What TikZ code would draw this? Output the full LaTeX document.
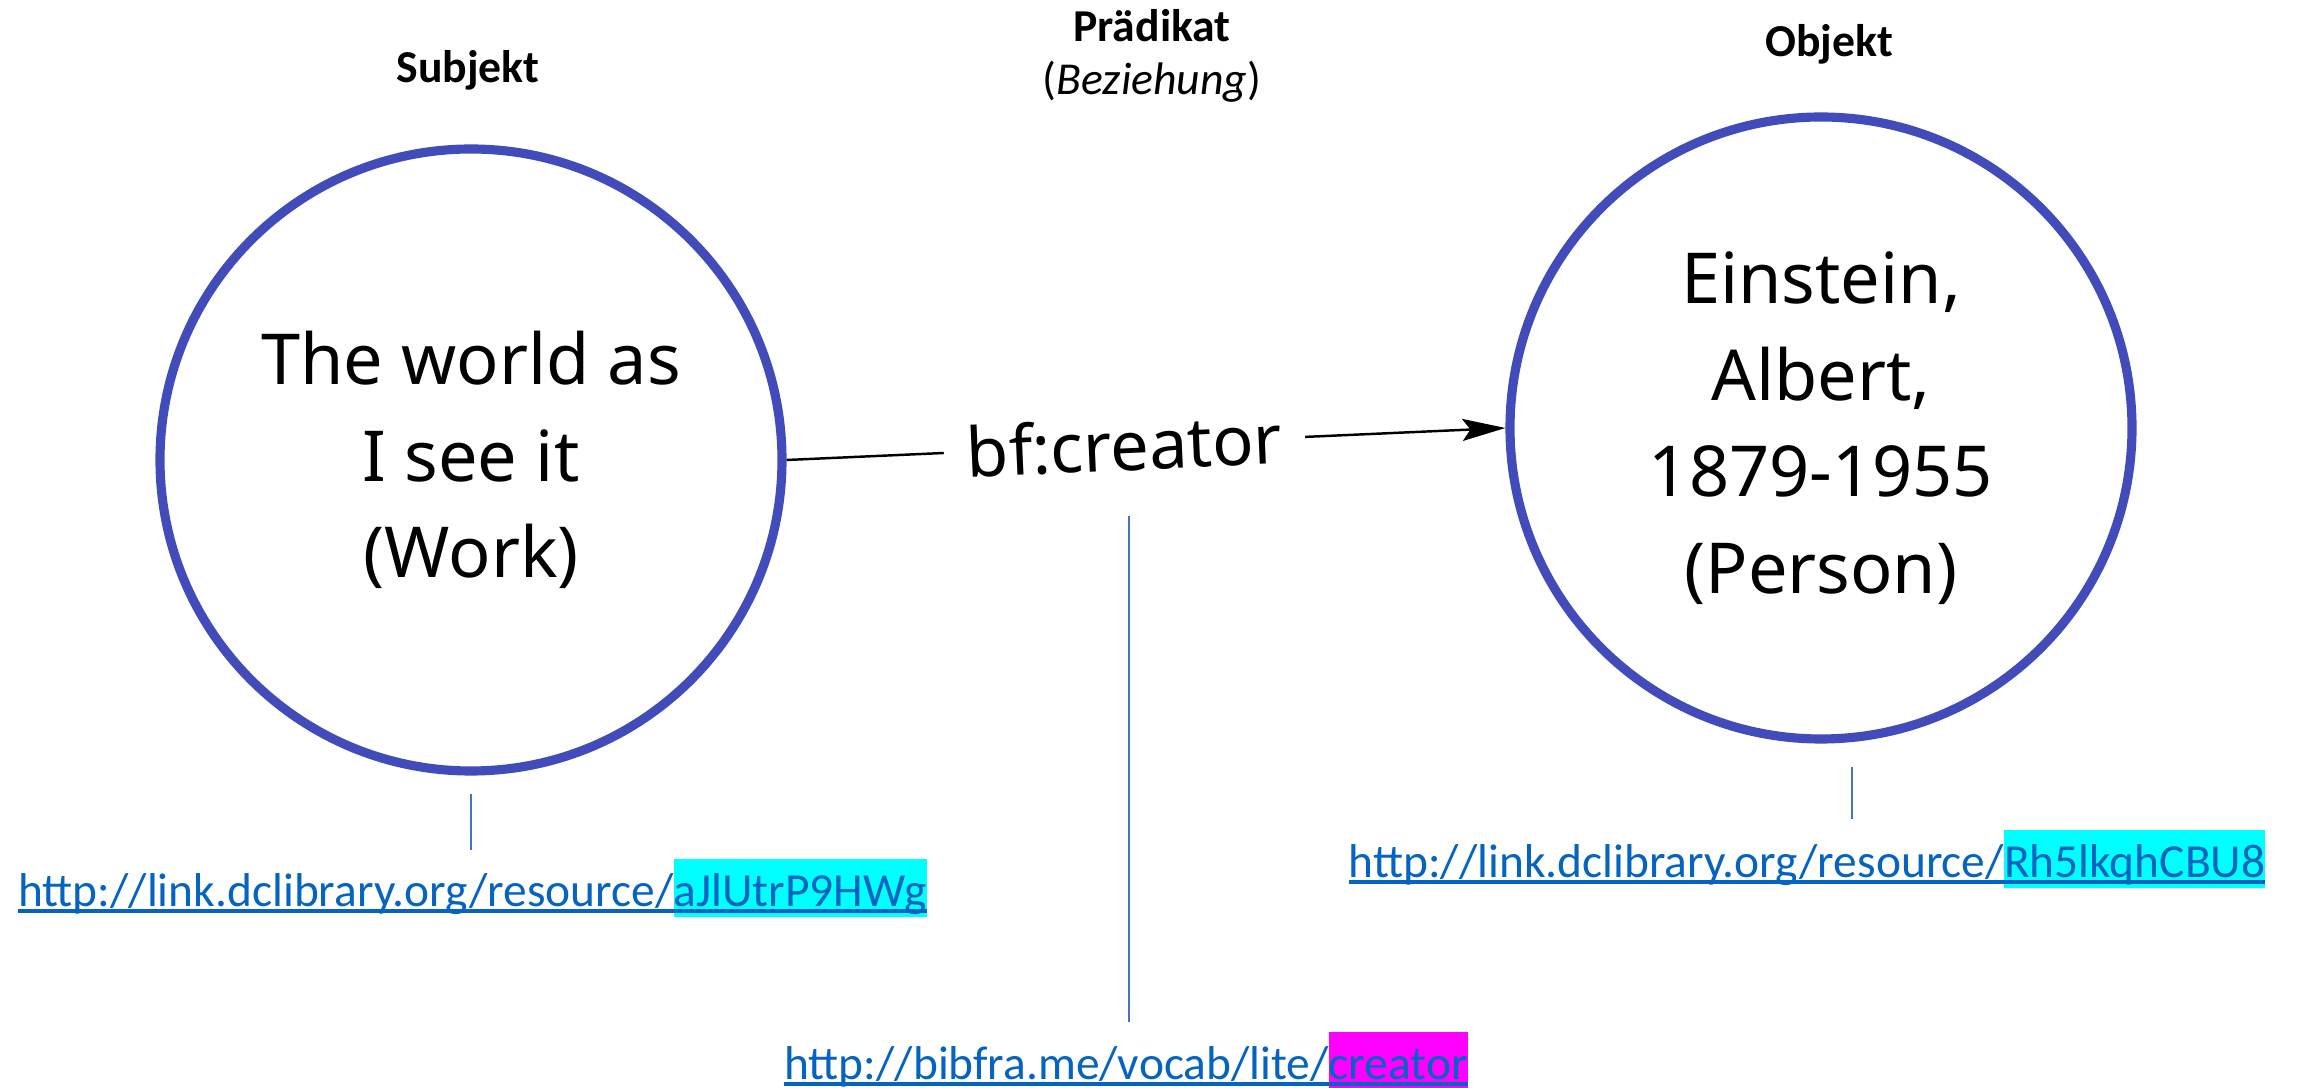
\documentclass[tikz,border=0pt]{standalone}
\usepackage{fontspec}
\setmainfont{Carlito}
\newfontfamily\circfont{Noto Sans}
\usetikzlibrary{arrows.meta}
\usetikzlibrary{calc}

\definecolor{ringblue}{RGB}{65,75,185}
\definecolor{linkblue}{RGB}{5,99,193}
\definecolor{tickblue}{RGB}{68,114,196}
\definecolor{hlcyan}{RGB}{0,255,255}
\definecolor{hlmagenta}{RGB}{255,0,255}

\newcommand{\hlpart}[2]{{\setlength{\fboxsep}{0pt}\colorbox{#1}{\rule[-0.1cm]{0pt}{0.58cm}#2}}}
\newcommand{\linktext}[3]{\sbox0{#1\hlpart{#2}{#3}}\rlap{\usebox0}\rule[-0.06cm]{\wd0}{0.035cm}}

\begin{document}
\begin{tikzpicture}[scale=1,
    ring/.style={circle, draw=ringblue, line width=2.6pt, minimum size=6.22cm, align=center,
        font={\circfont\fontsize{20}{27.5}\selectfont}},
    head/.style={anchor=base, font={\fontsize{13}{15}\selectfont}},
    uri/.style={anchor=base, inner sep=0pt, text=linkblue, font={\fontsize{13.5}{16}\selectfont}},
    tick/.style={draw=tickblue, line width=0.6pt}]
    \useasboundingbox (0, 0) rectangle (23, 10.88);

    \node [head] (subj) at (4.68, 10.05) {\textbf{Subjekt}};
    \node [head] (pred) at (11.52, 10.46) {\textbf{Prädikat}};
    \node [head] (rel) at (11.52, 9.93) {(\textit{Beziehung})};
    \node [head] (obj) at (18.29, 10.31) {\textbf{Objekt}};

    \node [ring] (work) at (4.71, 6.28) {The world as\\I see it\\(Work)};
    \node [ring] (person) at (18.21, 6.60) {Einstein,\\Albert,\\1879-1955\\(Person)};

    \draw[line width=0.7pt, -{Stealth[length=0.43cm, width=0.22cm, inset=0.08cm]}] (work.east) --
        node[pos=0.47, sloped, fill=white, inner xsep=0.23cm, font={\circfont\fontsize{19.5}{24}\selectfont}] (creator) {bf:creator}
        (person.west);

    \node [uri] (urlwork) at (4.725, 1.81) {\linktext{http://link.dclibrary.org/resource/}{hlcyan}{aJlUtrP9HWg}};
    \node [uri] (urlperson) at (18.07, 2.10) {\linktext{http://link.dclibrary.org/resource/}{hlcyan}{Rh5lkqhCBU8}};
    \node [uri] (urlpred) at (11.26, 0.08) {\linktext{http://bibfra.me/vocab/lite/}{hlmagenta}{creator}};

    \coordinate (ptick) at ($(person.south)+(0.31, 0)$);
    \coordinate (ctick) at (11.286, 5.72);
    \draw[tick, shorten <=0.18cm, shorten >=0.08cm] (work.south) -- (work.south |- urlwork.north);
    \draw[tick, shorten <=0.23cm, shorten >=0.1cm] (ptick) -- (ptick |- urlperson.north);
    \draw[tick, shorten >=0.09cm] (ctick) -- (ctick |- urlpred.north);
\end{tikzpicture}
\end{document}
